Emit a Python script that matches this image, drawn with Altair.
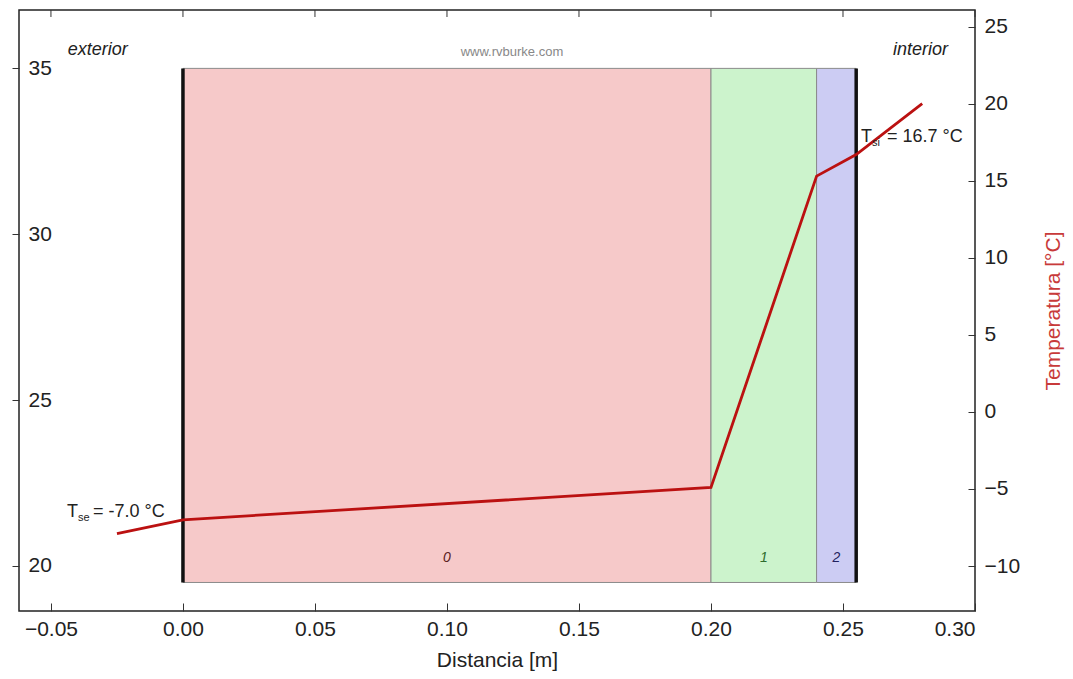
import altair as alt
import pandas as pd

# ---- data ----
layer_names = ["0", "1", "2"]
layer_x0 = [0.0, 0.20, 0.24]
layer_x1 = [0.20, 0.24, 0.255]
layer_fill = ["#f6c9c9", "#ccf3cc", "#ccccf3"]
layer_text_color = ["#5a2020", "#2d6b2d", "#22225e"]
layer_bottom = 19.5
layer_top = 35.0

wall_edges = [0.0, 0.255]

temp_x = [-0.025, 0.0, 0.20, 0.24, 0.255, 0.28]
temp_T = [-7.9, -7.0, -4.9, 15.3, 16.7, 20.0]

x_ticks = [-0.05, 0.0, 0.05, 0.10, 0.15, 0.20, 0.25, 0.30]
left_ticks = [20, 25, 30, 35]
right_ticks = [-10, -5, 0, 5, 10, 15, 20, 25]

x_domain = [-0.0621, 0.30]
left_domain = [18.64, 36.76]
right_domain = [-12.92, 26.08]

ann_x = [-0.0439, 0.2568]
ann_T = [-6.5, 17.85]
ann_sub = ["se", "si"]
ann_rest = ["= -7.0 °C", "= 16.7 °C"]

side_text = ["exterior", "interior", "www.rvburke.com"]
side_x = [-0.0436, 0.2898, 0.1246]
side_y = [35.55, 35.55, 35.5]

FONT = "Liberation Sans"

df_layers = pd.DataFrame({"name": layer_names, "x0": layer_x0, "x1": layer_x1,
                          "fill": layer_fill, "tc": layer_text_color,
                          "y0": [layer_bottom] * 3, "y1": [layer_top] * 3})
df_layers["xm"] = (df_layers["x0"] + df_layers["x1"]) / 2
df_layers["ylab"] = 20.25
df_edges = pd.DataFrame({"x": wall_edges, "y0": [layer_bottom] * 2, "y1": [layer_top] * 2})
df_temp = pd.DataFrame({"x": temp_x, "T": temp_T})
df_ann = pd.DataFrame({"x": ann_x, "T": ann_T, "sub": ann_sub, "rest": ann_rest})
df_side = pd.DataFrame({"x": side_x, "y": side_y, "t": side_text})
df_xt = pd.DataFrame({"x": x_ticks})

xscale = alt.Scale(domain=x_domain, nice=False, zero=False)
lscale = alt.Scale(domain=left_domain, nice=False, zero=False)
rscale = alt.Scale(domain=right_domain, nice=False, zero=False)

x_axis = alt.Axis(values=x_ticks, format=".2f", title="Distancia [m]", orient="bottom",
                  offset=-8, tickSize=8, domain=False, grid=False, labelPadding=7,
                  labelFontSize=21, titleFontSize=21, labelFont=FONT, titleFont=FONT,
                  labelColor="#222", titleColor="#222", tickColor="#333",
                  titleFontWeight="normal", titlePadding=10)
l_axis = alt.Axis(values=left_ticks, orient="left", tickSize=7, labelAlign="left",
                  labelPadding=-16, domain=False, grid=False, title=None,
                  labelFontSize=21, labelFont=FONT, labelColor="#222", tickColor="#333")
r_axis = alt.Axis(values=right_ticks, orient="right", offset=-7, tickSize=7, labelPadding=9,
                  domain=False, grid=False, title="Temperatura [°C]", titleAngle=270,
                  titleColor="#c83a3a", titleFontSize=21, titleFont=FONT,
                  titleFontWeight="normal", titlePadding=44,
                  labelFontSize=21, labelFont=FONT, labelColor="#222", tickColor="#333")


def X(f):
    return alt.X(f, type="quantitative", scale=xscale, axis=x_axis)


def YL(f):
    return alt.Y(f, type="quantitative", scale=lscale, axis=l_axis)


def YR(f):
    return alt.Y(f, type="quantitative", scale=rscale, axis=r_axis)


rects = alt.Chart(df_layers).mark_rect(stroke="#8a8a8a", strokeWidth=1).encode(
    x=X("x0"), x2="x1", y=YL("y0"), y2="y1",
    fill=alt.Fill("fill:N", scale=None))
edges = alt.Chart(df_edges).mark_rule(color="#111", strokeWidth=3.5).encode(
    x=X("x"), y=YL("y0"), y2="y1")
nums = alt.Chart(df_layers).mark_text(font=FONT, fontSize=14, fontStyle="italic").encode(
    x=X("xm"), y=YL("ylab"), text="name:N", color=alt.Color("tc:N", scale=None))
ext = alt.Chart(df_side.iloc[[0]]).mark_text(font=FONT, fontStyle="italic", fontSize=18,
                                             align="left", color="#222").encode(
    x=X("x"), y=YL("y"), text="t:N")
inte = alt.Chart(df_side.iloc[[1]]).mark_text(font=FONT, fontStyle="italic", fontSize=18,
                                              align="right", color="#222").encode(
    x=X("x"), y=YL("y"), text="t:N")
web = alt.Chart(df_side.iloc[[2]]).mark_text(font=FONT, fontSize=13, align="center",
                                             color="#888").encode(
    x=X("x"), y=YL("y"), text="t:N")
topticks = alt.Chart(df_xt).mark_rule(color="#333", strokeWidth=1).encode(
    x=X("x"), y=alt.value(0), y2=alt.value(7))

left = alt.layer(rects, edges, nums, ext, inte, web, topticks)

line = alt.Chart(df_temp).mark_line(color="#bb1111", strokeWidth=2.8).encode(
    x=X("x"), y=YR("T"))
annT = alt.Chart(df_ann).mark_text(font=FONT, fontSize=18, align="left", color="#222").encode(
    x=X("x"), y=YR("T"), text=alt.value("T"))
annS = alt.Chart(df_ann).mark_text(font=FONT, fontSize=11, align="left", color="#222",
                                   dx=11, dy=6).encode(
    x=X("x"), y=YR("T"), text="sub:N")
annR = alt.Chart(df_ann).mark_text(font=FONT, fontSize=18, align="left", color="#222",
                                   dx=26).encode(
    x=X("x"), y=YR("T"), text="rest:N")
right = alt.layer(line, annT, annS, annR)

chart = alt.layer(left, right).resolve_scale(y="independent").properties(
    width=956, height=601,
    padding={"left": 19, "top": 10, "right": 98, "bottom": 68},
    autosize=alt.AutoSizeParams(type="none"),
    background="white",
).configure_view(stroke="#222", strokeWidth=1.5)

chart.save("out.html", embed_options={"renderer": "svg", "actions": False})
